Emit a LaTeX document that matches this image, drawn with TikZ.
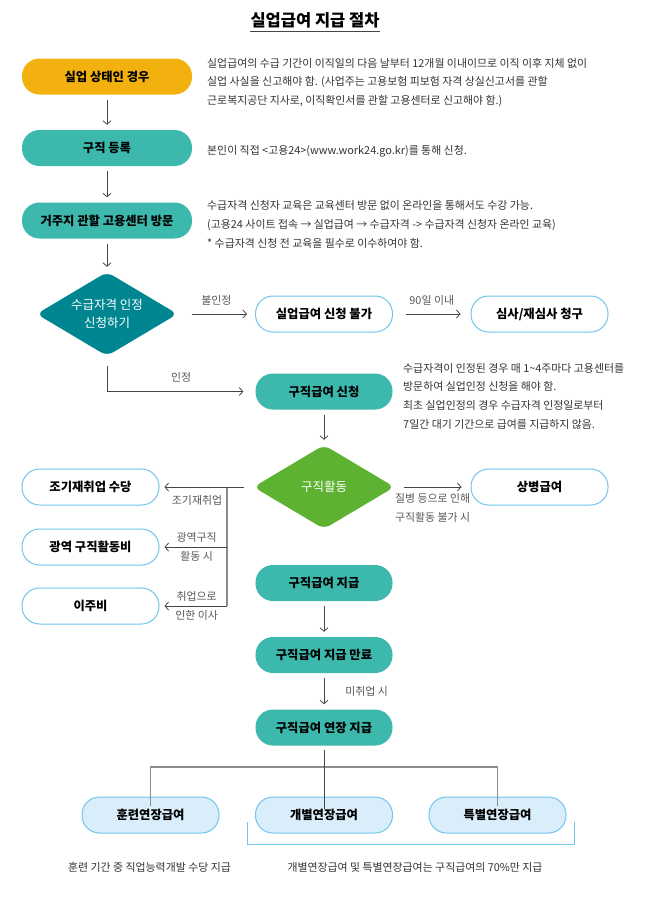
\documentclass[tikz,border=0pt]{standalone}
\usepackage{fontspec}
\setmainfont{Noto Sans CJK KR}
\usetikzlibrary{positioning,arrows.meta,shapes.geometric,calc}
\definecolor{PillYellow}{RGB}{242,177,15}
\definecolor{PillTeal}{RGB}{60,184,173}
\definecolor{DeepTeal}{RGB}{0,134,145}
\definecolor{LeafGreen}{RGB}{94,178,50}
\definecolor{SkyLine}{RGB}{112,196,238}
\definecolor{SkyFill}{RGB}{217,237,250}
\definecolor{InkGray}{RGB}{70,70,70}
\definecolor{BusGray}{RGB}{140,140,140}
\definecolor{NoteGray}{RGB}{51,51,51}
\tikzset{
  pillbox/.style={
    rounded corners=17.5pt,
    minimum width=137pt,
    minimum height=36pt,
    inner sep=0pt,
    align=center,
    text=black,
    font=\fontsize{12.3}{14}\selectfont\bfseries
  },
  widepill/.style={pillbox,minimum width=170pt},
  yellowpill/.style={pillbox,fill=PillYellow},
  tealpill/.style={pillbox,fill=PillTeal},
  outpill/.style={pillbox,draw=SkyLine,line width=1pt,fill=white},
  bluepill/.style={pillbox,draw=SkyLine,line width=1pt,fill=SkyFill},
  choicebox/.style={
    diamond,
    aspect=1.68,
    minimum width=141pt,
    minimum height=84pt,
    inner sep=0pt,
    rounded corners=7pt,
    align=center,
    text=white,
    font=\fontsize{12.5}{17.5}\selectfont
  },
  desctext/.style={inner sep=0pt,align=left,text=NoteGray,font=\fontsize{10.9}{18.7}\selectfont},
  tagtext/.style={inner sep=0pt,align=center,text=InkGray!90,font=\fontsize{10.9}{19}\selectfont},
  arrow/.style={-{Straight Barb[length=3.5pt,width=8pt]},line width=0.8pt,draw=InkGray},
  busline/.style={line width=1.2pt,draw=BusGray},
  stemline/.style={line width=0.8pt,draw=InkGray},
  bracketline/.style={line width=0.8pt,draw=SkyLine}
}
\begin{document}
\begin{tikzpicture}[x=1pt,y=-1pt]
  \useasboundingbox (0,0) rectangle (657,910);

  % title
  \node[inner sep=0pt,font=\fontsize{16.5}{18}\selectfont\bfseries] (title) at (315,20) {실업급여 지급 절차};
  \draw[line width=1pt,draw=InkGray] ([yshift=-4pt]title.south west) -- ([yshift=-4pt]title.south east);

  % main column
  \node[yellowpill,widepill] (jobless) at (107,76.5) {실업 상태인 경우};
  \node[tealpill,widepill] (register) at (107,148) {구직 등록};
  \node[tealpill,widepill] (visit) at (107,220.5) {거주지 관할 고용센터 방문};
  \node[choicebox,fill=DeepTeal] (qualify) at (107,314) {수급자격 인정\\신청하기};
  \node[outpill] (denied) at (324,314) {실업급여 신청 불가};
  \node[outpill] (appeal) at (539.5,314) {심사/재심사 청구};
  \node[tealpill] (apply) at (324,391.5) {구직급여 신청};
  \node[choicebox,fill=LeafGreen] (search) at (324,487) {구직활동};
  \node[outpill] (sick) at (539.5,487) {상병급여};
  \node[outpill] (early) at (90.5,487) {조기재취업 수당};
  \node[outpill] (wide) at (90.5,547) {광역 구직활동비};
  \node[outpill] (move) at (90.5,606) {이주비};
  \node[tealpill] (pay) at (324,583) {구직급여 지급};
  \node[tealpill] (payend) at (324,655) {구직급여 지급 만료};
  \node[tealpill] (extend) at (324,727.5) {구직급여 연장 지급};
  \node[bluepill] (training) at (150.5,815) {훈련연장급여};
  \node[bluepill] (individual) at (324,815) {개별연장급여};
  \node[bluepill] (special) at (497.5,815) {특별연장급여};

  % notes
  \node[desctext,anchor=west] (jobnote) at (207,82.5) {실업급여의 수급 기간이 이직일의 다음 날부터 12개월 이내이므로 이직 이후 지체 없이\\실업 사실을 신고해야 함. (사업주는 고용보험 피보험 자격 상실신고서를 관할\\근로복지공단 지사로, 이직확인서를 관할 고용센터로 신고해야 함.)};
  \node[desctext,anchor=west] (regnote) at (207,151) {본인이 직접 <고용24>(www.work24.go.kr)를 통해 신청.};
  \node[desctext,anchor=west] (visitnote) at (207,224.5) {수급자격 신청자 교육은 교육센터 방문 없이 온라인을 통해서도 수강 가능.\\(고용24 사이트 접속 → 실업급여 → 수급자격 -> 수급자격 신청자 온라인 교육)\\* 수급자격 신청 전 교육을 필수로 이수하여야 함.};
  \node[desctext,anchor=west] (applynote) at (403,396) {수급자격이 인정된 경우 매 1\textasciitilde4주마다 고용센터를\\방문하여 실업인정 신청을 해야 함.\\최초 실업인정의 경우 수급자격 인정일로부터\\7일간 대기 기간으로 급여를 지급하지 않음.};
  \node[desctext,align=center,anchor=center] (trainnote) at (149.5,867) {훈련 기간 중 직업능력개발 수당 지급};
  \node[desctext,align=center,anchor=center] (extnote) at (415,867) {개별연장급여 및 특별연장급여는 구직급여의 70\%만 지급};

  % arrows
  \draw[arrow,shorten <=5pt,shorten >=5pt] (jobless) -- (register);
  \draw[arrow,shorten <=5pt,shorten >=5pt] (register) -- (visit);
  \draw[arrow,shorten <=5pt,shorten >=5pt] (visit) -- (qualify);
  \draw[arrow,shorten <=14pt,shorten >=8pt] (qualify) -- (denied)
    node[tagtext,midway,above=8pt] {불인정};
  \draw[arrow,shorten <=13pt,shorten >=10pt] (denied) -- (appeal)
    node[tagtext,midway,above=8pt] {90일 이내};
  \draw[arrow,shorten <=10pt,shorten >=12pt] (qualify.south) |- (apply.west)
    node[tagtext,pos=0.75,above=9pt] {인정};
  \draw[arrow,shorten <=5pt,shorten >=5pt] (apply) -- (search);
  \draw[arrow,shorten <=9pt,shorten >=9pt] (search) -- (sick)
    node[tagtext,midway,below=6pt] {질병 등으로 인해\\구직활동 불가 시};

  % side branches
  \coordinate (bustop) at (227,487);
  \coordinate (busbot) at (227,606);
  \draw[busline] (bustop) -- (busbot);
  \draw[arrow,shorten <=9pt,shorten >=5pt] (search) -- (early)
    node[tagtext,pos=0.6,below=8pt] {조기재취업};
  \draw[arrow,shorten >=5pt] (bustop |- wide) -- (wide)
    node[tagtext,pos=0.45] {광역구직\\활동 시};
  \draw[arrow,shorten >=5pt] (busbot) -- (move)
    node[tagtext,pos=0.45] {취업으로\\인한 이사};

  \draw[arrow,shorten <=5pt,shorten >=5pt] (pay) -- (payend);
  \draw[arrow,shorten <=5pt,shorten >=5pt] (payend) -- (extend)
    node[tagtext,midway,right=21pt] {미취업 시};

  % extension tree
  \coordinate (split) at (324,767);
  \draw[busline] ([yshift=-9pt]training.north) -- (training.north |- split)
    -- (special.north |- split) -- ([yshift=-9pt]special.north);
  \draw[stemline,shorten <=4pt] (extend.south) -- ([yshift=-12pt]individual.north);
  \draw[bracketline] ([xshift=-8pt,yshift=-7pt]individual.west) -- ++(0,22)
    -| ([xshift=8pt,yshift=-7pt]special.east);
\end{tikzpicture}
\end{document}
